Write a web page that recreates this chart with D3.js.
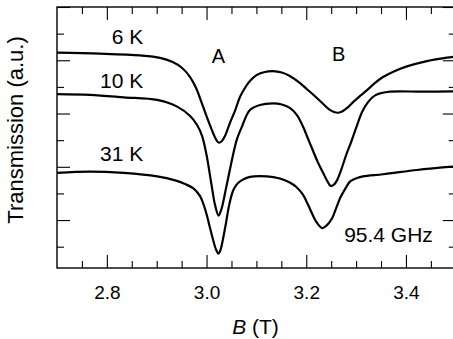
<!DOCTYPE html>
<html>
<head>
<meta charset="utf-8">
<script src="https://cdn.jsdelivr.net/npm/d3@7"></script>
<style>
  html, body { margin: 0; padding: 0; background: #fff; }
  svg { display: block; }
  text { font-family: "Liberation Sans", Arial, Helvetica, sans-serif; fill: #000; }
</style>
</head>
<body>
<svg id="chart" width="453" height="339"></svg>
<script>
// ---- data ----
const b6  = [2.700, 2.786, 2.867, 2.907, 2.931, 2.951, 2.967, 2.979, 2.989, 2.999, 3.009, 3.017, 3.024, 3.030, 3.037, 3.047, 3.057, 3.067, 3.077, 3.087, 3.101, 3.117, 3.133, 3.151, 3.167, 3.187, 3.201, 3.218, 3.234, 3.248, 3.262, 3.272, 3.282, 3.294, 3.308, 3.322, 3.338, 3.354, 3.378, 3.402, 3.442, 3.482, 3.500];
const t6  = [7.29, 7.25, 7.18, 7.09, 6.94, 6.71, 6.37, 5.96, 5.47, 4.95, 4.46, 4.10, 3.91, 3.95, 4.16, 4.65, 5.10, 5.62, 5.96, 6.22, 6.45, 6.56, 6.59, 6.54, 6.41, 6.15, 5.92, 5.64, 5.36, 5.13, 5.03, 5.08, 5.21, 5.43, 5.66, 5.88, 6.15, 6.37, 6.60, 6.77, 6.97, 7.10, 7.14];

const b10 = [2.700, 2.766, 2.834, 2.901, 2.941, 2.967, 2.981, 2.991, 3.000, 3.010, 3.017, 3.024, 3.030, 3.040, 3.054, 3.061, 3.071, 3.087, 3.107, 3.133, 3.151, 3.167, 3.181, 3.193, 3.203, 3.213, 3.223, 3.234, 3.242, 3.249, 3.256, 3.262, 3.270, 3.280, 3.290, 3.300, 3.312, 3.324, 3.340, 3.368, 3.434, 3.500];
const t10 = [5.73, 5.70, 5.61, 5.51, 5.26, 4.91, 4.57, 4.16, 3.44, 2.32, 1.57, 1.17, 1.42, 2.28, 3.52, 4.04, 4.51, 5.13, 5.32, 5.38, 5.34, 5.21, 4.95, 4.53, 4.08, 3.63, 3.18, 2.77, 2.47, 2.28, 2.34, 2.50, 2.88, 3.44, 3.93, 4.46, 5.06, 5.43, 5.70, 5.82, 5.82, 5.83];

const b31 = [2.700, 2.766, 2.834, 2.901, 2.937, 2.957, 2.973, 2.987, 2.995, 3.001, 3.007, 3.013, 3.019, 3.024, 3.028, 3.033, 3.039, 3.045, 3.053, 3.061, 3.071, 3.087, 3.121, 3.147, 3.167, 3.179, 3.193, 3.203, 3.213, 3.221, 3.232, 3.240, 3.251, 3.260, 3.268, 3.279, 3.288, 3.302, 3.314, 3.354, 3.422, 3.468, 3.500];
const t31 = [2.77, 2.82, 2.77, 2.64, 2.49, 2.35, 2.20, 1.90, 1.53, 1.15, 0.70, 0.27, -0.11, -0.26, -0.12, 0.29, 0.89, 1.53, 2.09, 2.35, 2.50, 2.62, 2.64, 2.56, 2.41, 2.26, 1.96, 1.60, 1.19, 0.91, 0.70, 0.78, 1.04, 1.45, 1.83, 2.20, 2.45, 2.58, 2.64, 2.72, 2.88, 2.97, 3.01];

const xMajorTicks = [2.8, 3.0, 3.2, 3.4];
const xMinorTicks = [2.75, 2.85, 2.9, 2.95, 3.05, 3.1, 3.15, 3.25, 3.3, 3.35, 3.45];
const yMajorTicks = [1, 3, 5, 7, 9];
const yMinorTicks = [0, 2, 4, 6, 8];

const seriesLabels = [
  { text: "6 K",  b: 2.873, t: 7.6 },
  { text: "10 K", b: 2.873, t: 5.95 },
  { text: "31 K", b: 2.873, t: 3.2 }
];
const peakLabels = [
  { text: "A", b: 3.024, t: 6.88 },
  { text: "B", b: 3.265, t: 6.98 }
];
const freqLabel = { text: "95.4 GHz", b: 3.276, t: 0.19 };

// ---- layout ----
const svg = d3.select("#chart");
const mLeft = 57, mRight = 455.8, mTop = 7, mBottom = 268;

const x = d3.scaleLinear().domain([2.7, 3.5]).range([mLeft, mRight]);
const y = d3.scaleLinear().domain([-0.8, 9]).range([mBottom, mTop]);

svg.append("clipPath").attr("id", "clip")
  .append("rect").attr("x", mLeft).attr("y", mTop).attr("width", mRight - mLeft).attr("height", mBottom - mTop);

function styleAxis(g) {
  g.select(".domain").remove();
  g.selectAll(".tick line").attr("stroke", "#000").attr("stroke-width", 1.1);
}

// bottom
svg.append("g").attr("transform", `translate(0,${mBottom})`)
  .call(d3.axisBottom(x).tickValues(xMajorTicks).tickSize(-13).tickPadding(18).tickFormat(d3.format(".1f")))
  .call(styleAxis)
  .call(g => g.selectAll("text").attr("font-size", 19).attr("font-family", "Liberation Sans, Arial, sans-serif"));
svg.append("g").attr("transform", `translate(0,${mBottom})`)
  .call(d3.axisBottom(x).tickValues(xMinorTicks).tickSize(-7).tickFormat(""))
  .call(styleAxis);
// top
svg.append("g").attr("transform", `translate(0,${mTop})`)
  .call(d3.axisTop(x).tickValues(xMajorTicks).tickSize(-13).tickFormat(""))
  .call(styleAxis);
svg.append("g").attr("transform", `translate(0,${mTop})`)
  .call(d3.axisTop(x).tickValues(xMinorTicks).tickSize(-7).tickFormat(""))
  .call(styleAxis);
// left
svg.append("g").attr("transform", `translate(${mLeft},0)`)
  .call(d3.axisLeft(y).tickValues(yMajorTicks).tickSize(-13).tickFormat(""))
  .call(styleAxis);
svg.append("g").attr("transform", `translate(${mLeft},0)`)
  .call(d3.axisLeft(y).tickValues(yMinorTicks).tickSize(-7).tickFormat(""))
  .call(styleAxis);
// right
svg.append("g").attr("transform", `translate(${mRight},0)`)
  .call(d3.axisRight(y).tickValues(yMajorTicks).tickSize(-13).tickFormat(""))
  .call(styleAxis);
svg.append("g").attr("transform", `translate(${mRight},0)`)
  .call(d3.axisRight(y).tickValues(yMinorTicks).tickSize(-7).tickFormat(""))
  .call(styleAxis);

// frame
svg.append("rect")
  .attr("x", mLeft).attr("y", mTop).attr("width", mRight - mLeft).attr("height", mBottom - mTop)
  .attr("fill", "none").attr("stroke", "#000").attr("stroke-width", 1.4);

// curves
const line = d3.line()
  .x(d => x(d[0])).y(d => y(d[1]))
  .curve(d3.curveCatmullRom.alpha(0.5));

const series = [[b6, t6], [b10, t10], [b31, t31]];
svg.append("g").attr("clip-path", "url(#clip)")
  .selectAll("path").data(series).join("path")
  .attr("d", s => line(s[0].map((b, i) => [b, s[1][i]])))
  .attr("fill", "none").attr("stroke", "#000").attr("stroke-width", 2.2)
  .attr("stroke-linejoin", "round");

// labels
svg.append("g").selectAll("text").data(seriesLabels).join("text")
  .attr("x", d => x(d.b)).attr("y", d => y(d.t))
  .attr("text-anchor", "end").attr("font-size", 21)
  .text(d => d.text);
svg.append("g").selectAll("text").data(peakLabels).join("text")
  .attr("x", d => x(d.b)).attr("y", d => y(d.t))
  .attr("text-anchor", "middle").attr("font-size", 20)
  .text(d => d.text);
svg.append("text")
  .attr("x", x(freqLabel.b)).attr("y", y(freqLabel.t))
  .attr("font-size", 21).text(freqLabel.text);

// axis titles
const xt = svg.append("text").attr("x", (mLeft + 453) / 2 + 0.5).attr("y", 334)
  .attr("text-anchor", "middle").attr("font-size", 21);
xt.append("tspan").attr("font-style", "italic").text("B");
xt.append("tspan").text(" (T)");

svg.append("text")
  .attr("transform", `translate(23,130) rotate(-90)`)
  .attr("text-anchor", "middle").attr("font-size", 22)
  .text("Transmission (a.u.)");
</script>
</body>
</html>
